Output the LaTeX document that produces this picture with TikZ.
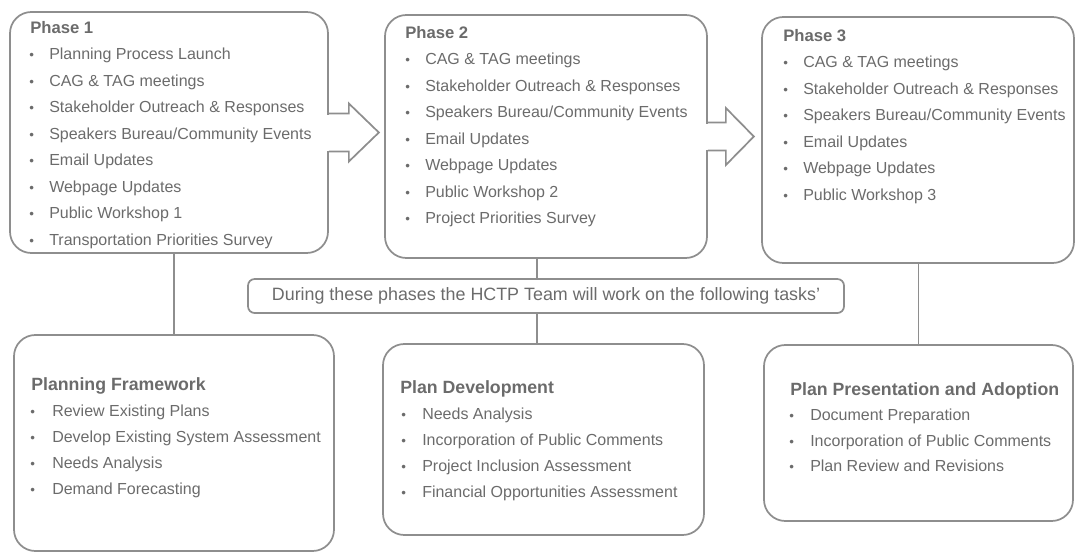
\documentclass[tikz,border=0pt]{standalone}
\usepackage{fontspec}
\setmainfont{Liberation Sans}
\usepackage{xcolor}
\usepackage{tikz}
\usetikzlibrary{fit,calc}

\definecolor{boxgray}{HTML}{8E8E8E}
\definecolor{inkgray}{HTML}{6B6B6B}

\tikzset{
  phasebox/.style={draw=boxgray, line width=1.3pt, rounded corners=16pt, inner sep=0pt},
  notebox/.style={draw=boxgray, line width=1.3pt, rounded corners=5pt, inner sep=0pt},
  notetext/.style={inner sep=0pt, text=inkgray, font=\fontsize{13.4}{15}\selectfont},
  link/.style={draw=boxgray, line width=1.3pt},
  blockarrow/.style={draw=boxgray, line width=1.3pt, line join=miter},
  headtext/.style={anchor=base west, inner sep=0pt, text=inkgray, font=\bfseries\fontsize{12.5}{14}\selectfont},
  taskhead/.style={headtext, font=\bfseries\fontsize{13.3}{15}\selectfont},
  itemtext/.style={anchor=base west, inner sep=0pt, text=inkgray, font=\fontsize{12}{14}\selectfont},
  dottext/.style={anchor=base west, inner sep=0pt, text=inkgray, font=\fontsize{10}{12}\selectfont},
}

\begin{document}
\begin{tikzpicture}[x=0.75pt,y=-0.75pt]
    \useasboundingbox (0,0) rectangle (1076,554);

    % Phase boxes
    \node[phasebox, fit={(10,12) (328,253)}] (p1) {};
    \node[phasebox, fit={(385,15) (707,258)}] (p2) {};
    \node[phasebox, fit={(762,17) (1074,263)}] (p3) {};

    % Task boxes
    \node[phasebox, fit={(14,335) (334,551)}] (pf) {};
    \node[phasebox, fit={(383,344) (704,535)}] (pd) {};
    \node[phasebox, fit={(764,345) (1073,521)}] (pp) {};

    % Note in the middle
    \node[notebox, fit={(248,279) (844,313)}] (bn) {};
    \node[notetext] (bnt) at (bn.center) {During these phases the HCTP Team will work on the following tasks'};
    \coordinate (j2) at (537,296);

    % Links
    \draw[link] (p1.south -| pf.north) -- (pf.north);
    \draw[link] (p2.south -| j2) -- (bn.north -| j2);
    \draw[link] (bn.south -| j2) -- (pd.north -| j2);
    \draw[link] (p3.south -| pp.north) -- (pp.north);

    % Arrow Phase 1 -> Phase 2
    \fill[white] ($(p1.east)+(-2,-18)$) rectangle ($(p1.east)+(2,18)$);
    \draw[blockarrow] ($(p1.east)+(0,-19)$) -- ++(20,0) -- ++(0,-10) -- ++(30,29)
        -- ++(-30,29) -- ++(0,-10) -- ++(-20,0);

    % Arrow Phase 2 -> Phase 3
    \fill[white] ($(p2.east)+(-2,-13)$) rectangle ($(p2.east)+(2,13)$);
    \draw[blockarrow] ($(p2.east)+(0,-14)$) -- ++(18,0) -- ++(0,-14.5) -- ++(28,28.5)
        -- ++(-28,28.5) -- ++(0,-14.5) -- ++(-18,0);

    % Phase 1
    \node[headtext] (p1h) at (30,33) {Phase 1};
    \foreach \t [count=\k] in {Planning Process Launch, CAG \& TAG meetings,
        Stakeholder Outreach \& Responses, Speakers Bureau/Community Events,
        Email Updates, Webpage Updates, Public Workshop 1, Transportation Priorities Survey} {
        \node[dottext] (p1d\k) at (29,{33+26.5*\k}) {\textbullet};
        \node[itemtext] (p1i\k) at (49,{33+26.5*\k}) {\t};
    }

    % Phase 2
    \node[headtext] (p2h) at (405,38) {Phase 2};
    \foreach \t [count=\k] in {CAG \& TAG meetings, Stakeholder Outreach \& Responses,
        Speakers Bureau/Community Events, Email Updates, Webpage Updates,
        Public Workshop 2, Project Priorities Survey} {
        \node[dottext] (p2d\k) at (405,{38+26.5*\k}) {\textbullet};
        \node[itemtext] (p2i\k) at (425,{38+26.5*\k}) {\t};
    }

    % Phase 3
    \node[headtext] (p3h) at (783,41) {Phase 3};
    \foreach \t [count=\k] in {CAG \& TAG meetings, Stakeholder Outreach \& Responses,
        Speakers Bureau/Community Events, Email Updates, Webpage Updates,
        Public Workshop 3} {
        \node[dottext] (p3d\k) at (783,{41+26.5*\k}) {\textbullet};
        \node[itemtext] (p3i\k) at (803,{41+26.5*\k}) {\t};
    }

    % Planning Framework
    \node[taskhead] (pfh) at (31,390) {Planning Framework};
    \foreach \t [count=\k] in {Review Existing Plans, Develop Existing System Assessment,
        Needs Analysis, Demand Forecasting} {
        \node[dottext] (pfd\k) at (30,{390+26*\k}) {\textbullet};
        \node[itemtext] (pfi\k) at (52,{390+26*\k}) {\t};
    }

    % Plan Development
    \node[taskhead] (pdh) at (400,393) {Plan Development};
    \foreach \t [count=\k] in {Needs Analysis, Incorporation of Public Comments,
        Project Inclusion Assessment, Financial Opportunities Assessment} {
        \node[dottext] (pdd\k) at (401,{393+26*\k}) {\textbullet};
        \node[itemtext] (pdi\k) at (422,{393+26*\k}) {\t};
    }

    % Plan Presentation and Adoption
    \node[taskhead] (pph) at (790,395) {Plan Presentation and Adoption};
    \foreach \t [count=\k] in {Document Preparation, Incorporation of Public Comments,
        Plan Review and Revisions} {
        \node[dottext] (ppd\k) at (789,{395+25.5*\k}) {\textbullet};
        \node[itemtext] (ppi\k) at (810,{395+25.5*\k}) {\t};
    }
\end{tikzpicture}
\end{document}
